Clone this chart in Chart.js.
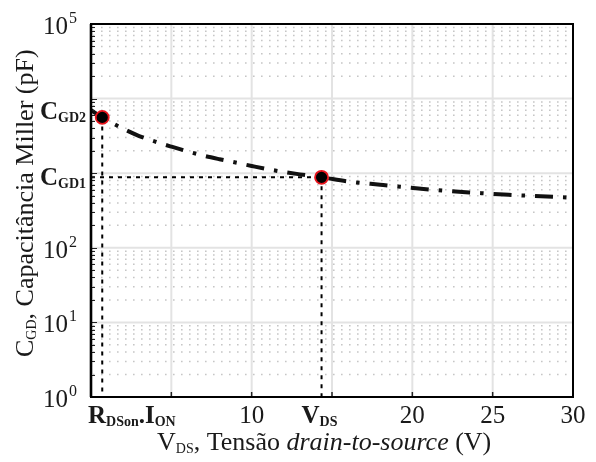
<!DOCTYPE html>
<html><head><meta charset="utf-8">
<script src="https://cdn.jsdelivr.net/npm/chart.js@4.4.0/dist/chart.umd.min.js"></script>
<style>html,body{margin:0;padding:0;background:#fff;}</style>
</head><body>
<canvas id="c" width="596" height="462"></canvas>
<script>
// ---- data ----
const vdsValues = [0, 0.7, 2, 3, 4, 5, 6, 7, 8, 9, 10, 11, 12, 13, 14.35, 16, 18, 20, 22, 24, 26, 28, 30];
const cgdValues = [7000, 5600, 3950, 3150, 2650, 2270, 1960, 1720, 1540, 1390, 1250, 1130, 1040, 965, 880, 775, 700, 635, 582, 545, 513, 490, 470];
const markerVds = [0.7, 14.35];
const markerCgd = [5600, 880];
const markerNames = ['GD2', 'GD1'];
const xTickValues = [10, 20, 25, 30];
const xTickLabels = ['10', '20', '25', '30'];
const xMajorGrid = [5, 10, 15, 20, 25];
const yLabelExponents = [0, 1, 2, 5];

const SERIF = '"Liberation Serif", "Times New Roman", serif';

function drawParts(ctx, parts, x, y) {
  let cx = x;
  for (const p of parts) {
    ctx.font = p.font;
    ctx.fillText(p.t, cx, y + (p.dy || 0));
    cx += ctx.measureText(p.t).width;
  }
  return cx;
}

const decor = {
  id: 'decor',
  beforeDatasetsDraw(chart) {
    const { ctx, chartArea: a, scales: { x, y } } = chart;
    ctx.save();
    ctx.beginPath();
    ctx.rect(a.left, a.top, a.right - a.left, a.bottom - a.top);
    ctx.clip();
    // minor dotted horizontal grid
    ctx.strokeStyle = '#c6c6c6';
    ctx.lineWidth = 1.5;
    ctx.setLineDash([1.6, 6.4]);
    for (let e = 0; e < 5; e++) {
      for (let d = 2; d <= 9; d++) {
        const py = y.getPixelForValue(d * Math.pow(10, e));
        ctx.beginPath(); ctx.moveTo(a.left + 2, py); ctx.lineTo(a.right, py); ctx.stroke();
      }
    }
    // major grid
    ctx.setLineDash([]);
    ctx.strokeStyle = '#e3e3e3';
    ctx.lineWidth = 2;
    for (let e = 1; e < 5; e++) {
      const py = y.getPixelForValue(Math.pow(10, e));
      ctx.beginPath(); ctx.moveTo(a.left, py); ctx.lineTo(a.right, py); ctx.stroke();
    }
    for (const v of xMajorGrid) {
      const px = x.getPixelForValue(v);
      ctx.beginPath(); ctx.moveTo(px, a.top); ctx.lineTo(px, a.bottom); ctx.stroke();
    }
    // reference dashed lines
    ctx.strokeStyle = '#000';
    ctx.lineWidth = 2;
    ctx.setLineDash([4, 5]);
    const p1x = x.getPixelForValue(markerVds[0]);
    const p1y = y.getPixelForValue(markerCgd[0]);
    const p2x = x.getPixelForValue(markerVds[1]);
    const p2y = y.getPixelForValue(markerCgd[1]);
    ctx.beginPath(); ctx.moveTo(a.left, p2y); ctx.lineTo(p2x, p2y); ctx.stroke();
    ctx.beginPath(); ctx.moveTo(p1x, p1y); ctx.lineTo(p1x, a.bottom); ctx.stroke();
    ctx.beginPath(); ctx.moveTo(p2x, p2y); ctx.lineTo(p2x, a.bottom); ctx.stroke();
    ctx.restore();
  },
  afterDatasetsDraw(chart) {
    const { ctx, chartArea: a, scales: { x, y } } = chart;
    ctx.save();
    // inward ticks
    ctx.strokeStyle = '#222';
    ctx.lineWidth = 1;
    for (let e = 0; e < 5; e++) {
      for (let d = 1; d <= 9; d++) {
        const py = Math.round(y.getPixelForValue(d * Math.pow(10, e))) + 0.5;
        const len = d === 1 ? 6 : 4;
        ctx.beginPath(); ctx.moveTo(a.left, py); ctx.lineTo(a.left + len, py); ctx.stroke();
      }
    }
    ctx.lineWidth = 1.5;
    for (const v of xMajorGrid) {
      const px = x.getPixelForValue(v);
      ctx.beginPath(); ctx.moveTo(px, a.bottom); ctx.lineTo(px, a.bottom - 5); ctx.stroke();
    }
    // frame
    ctx.strokeStyle = '#000';
    ctx.lineWidth = 2;
    ctx.strokeRect(a.left, a.top, a.right - a.left, a.bottom - a.top);
    ctx.beginPath(); ctx.moveTo(a.left, a.top); ctx.lineTo(a.left, a.bottom); ctx.lineWidth = 2.6; ctx.stroke();
    ctx.restore();
  },
  afterDraw(chart) {
    const { ctx, chartArea: a, scales: { x, y } } = chart;
    ctx.save();
    ctx.fillStyle = '#1a1a1a';
    ctx.textBaseline = 'alphabetic';
    // y tick labels 10^n
    for (const e of yLabelExponents) {
      const py = y.getPixelForValue(Math.pow(10, e));
      ctx.font = '25px ' + SERIF;
      ctx.textAlign = 'right';
      ctx.fillText('10', 68, py + 10);
      ctx.textAlign = 'left';
      ctx.font = '16px ' + SERIF;
      ctx.fillText(String(e), 69, py - 1);
    }
    // x tick labels
    ctx.textAlign = 'center';
    ctx.font = '25px ' + SERIF;
    xTickValues.forEach((v, i) => {
      ctx.fillText(xTickLabels[i], x.getPixelForValue(v), a.bottom + 26);
    });
    ctx.textAlign = 'left';
    const B = 'bold 25px ' + SERIF;
    const BS = 'bold 14px ' + SERIF;
    // R_DSon . I_ON
    drawParts(ctx, [
      { t: 'R', font: B }, { t: 'DSon', font: BS, dy: 3 },
      { t: '.', font: B }, { t: 'I', font: B }, { t: 'ON', font: BS, dy: 3 }
    ], x.getPixelForValue(0) - 3, a.bottom + 26);
    // V_DS
    drawParts(ctx, [
      { t: 'V', font: B }, { t: 'DS', font: BS, dy: 3 }
    ], x.getPixelForValue(markerVds[1]) - 20, a.bottom + 26);
    // C_GD2, C_GD1
    const cOff = [2, 8];
    markerCgd.forEach((v, i) => {
      const py = y.getPixelForValue(v);
      drawParts(ctx, [
        { t: 'C', font: 'bold 25px ' + SERIF }, { t: markerNames[i], font: BS, dy: 3 }
      ], 40, py + cOff[i]);
    });
    // x title
    const R = '26px ' + SERIF;
    drawParts(ctx, [
      { t: 'V', font: R }, { t: 'DS', font: '14px ' + SERIF, dy: 3 },
      { t: ', Tensão ', font: R }, { t: 'drain-to-source', font: 'italic 26px ' + SERIF },
      { t: ' (V)', font: R }
    ], 157, a.bottom + 53);
    // y title
    ctx.translate(33, 357);
    ctx.rotate(-Math.PI / 2);
    drawParts(ctx, [
      { t: 'C', font: R }, { t: 'GD', font: '14px ' + SERIF, dy: 3 },
      { t: ', Capacitância Miller (pF)', font: R }
    ], 0, 0);
    ctx.restore();
  }
};

new Chart(document.getElementById('c'), {
  type: 'line',
  data: {
    datasets: [
      {
        type: 'scatter',
        data: markerVds.map((v, i) => ({ x: v, y: markerCgd[i] })),
        pointRadius: 6.5,
        pointBackgroundColor: '#000',
        pointBorderColor: '#e8141c',
        pointBorderWidth: 1.8,
        showLine: false,
        order: 0
      },
      {
        data: vdsValues.map((v, i) => ({ x: v, y: cgdValues[i] })),
        borderColor: '#111',
        borderWidth: 4,
        borderDash: [18, 10, 3.5, 10],
        borderCapStyle: 'butt',
        pointRadius: 0,
        cubicInterpolationMode: 'monotone',
        fill: false,
        order: 1
      }
    ]
  },
  options: {
    responsive: false,
    animation: false,
    devicePixelRatio: 1,
    layout: { padding: { left: 91, top: 24, right: 23, bottom: 65 } },
    plugins: { legend: { display: false }, tooltip: { enabled: false } },
    scales: {
      x: { type: 'linear', min: 0, max: 30, display: false },
      y: { type: 'logarithmic', min: 1, max: 100000, display: false }
    }
  },
  plugins: [decor]
});
</script>
</body></html>
